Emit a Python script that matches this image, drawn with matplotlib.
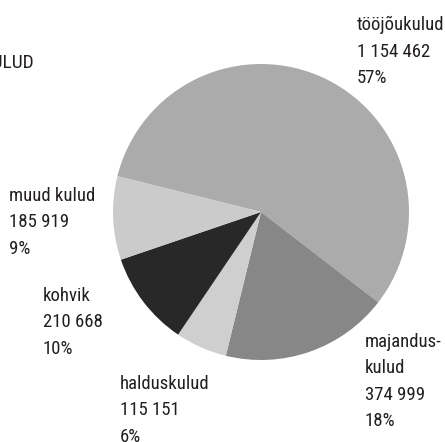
import matplotlib
matplotlib.use("Agg")
import matplotlib.pyplot as plt
from matplotlib import font_manager as fm
from matplotlib.font_manager import FontProperties

labels = ["tööjõukulud", "majandus-\nkulud", "halduskulud", "kohvik", "muud kulud"]
values = [1154462, 374999, 115151, 210668, 185919]
pct_labels = ["57%", "18%", "6%", "10%", "9%"]
colors = ["#ababab", "#878787", "#cfcfcf", "#282828", "#cbcbcb"]

# pick a condensed / narrow font if one is installed
cand = []
for f in fm.fontManager.ttflist:
    fn = f.fname.lower()
    if ("condensed" in fn or "narrow" in fn or "cond" in str(f.stretch)) and "bold" not in fn \
            and "italic" not in fn and "oblique" not in fn and "light" not in fn:
        cand.append(f)
pref = ["roboto", "opensans", "open", "liberation", "noto", "dejavu"]
def rank(f):
    fn = f.fname.lower()
    for i, p in enumerate(pref):
        if p in fn:
            return i
    return len(pref)
cand.sort(key=rank)
if cand:
    fp = FontProperties(fname=cand[0].fname)
    size = 13.5
    narrow = True
else:
    fp = FontProperties(family="DejaVu Sans")
    size = 10
    narrow = False

W, H = 445, 442
fig = plt.figure(figsize=(W / 100, H / 100), dpi=100)
cx, cy, r = 261, 212, 148
ax = fig.add_axes([(cx - r) / W, (H - cy - r) / H, 2 * r / W, 2 * r / H])
ax.pie(values, colors=colors, startangle=166, counterclock=False,
       wedgeprops=dict(linewidth=0))
ax.set_xlim(-1, 1)
ax.set_ylim(-1, 1)
ax.axis("off")

def fmt(v):
    return f"{v:,}".replace(",", " ")

pos = [(357, 16), (365, 333), (120, 375), (43, 287), (9, 187)]
for (x, y), lab, v, p in zip(pos, labels, values, pct_labels):
    t = fig.text(x / W, 1 - y / H, f"{lab}\n{fmt(v)}\n{p}", ha="left", va="top",
                 color="#231f20", linespacing=1.6 if narrow else 1.9)
    t.set_fontproperties(fp)
    t.set_fontsize(size)

t = fig.text(34 / W, 1 - 62.5 / H, "KULUD", ha="right", va="center", color="#231f20")
t.set_fontproperties(fp)
t.set_fontsize(14 if narrow else 11)

fig.savefig("out.png", dpi=100)
